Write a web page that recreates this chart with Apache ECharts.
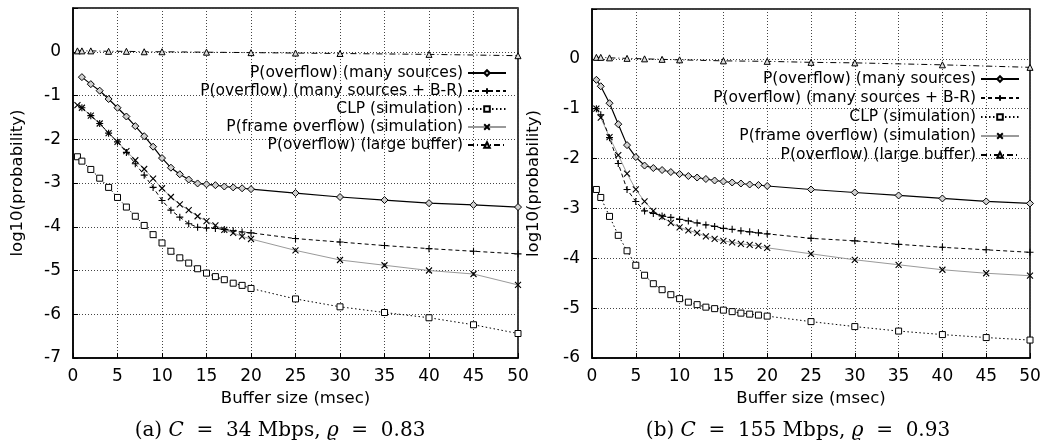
<!DOCTYPE html>
<html><head><meta charset="utf-8">
<script src="https://cdn.jsdelivr.net/npm/echarts@6/dist/echarts.min.js"></script>
<style>html,body{margin:0;padding:0;background:#fff}#c{width:1050px;height:445px}</style>
</head><body><div id="c"></div>
<script>
// ---------- data ----------
const names = ['P(overflow) (many sources)','P(overflow) (many sources + B-R)','CLP (simulation)','P(frame overflow) (simulation)','P(overflow) (large buffer)'];
const xTicks = [0,5,10,15,20,25,30,35,40,45,50];

// panel (a) C = 34 Mbps
const aXMany = [1,2,3,4,5,6,7,8,9,10,11,12,13,14,15,16,17,18,19,20,25,30,35,40,45,50];
const aMany  = [-0.58,-0.74,-0.89,-1.08,-1.28,-1.48,-1.70,-1.93,-2.17,-2.43,-2.65,-2.80,-2.92,-3.01,-3.03,-3.05,-3.08,-3.10,-3.12,-3.14,-3.23,-3.32,-3.39,-3.46,-3.50,-3.55];
const aBR    = [-1.28,-1.46,-1.64,-1.86,-2.06,-2.30,-2.56,-2.82,-3.10,-3.40,-3.62,-3.78,-3.93,-4.01,-4.03,-4.04,-4.06,-4.09,-4.12,-4.14,-4.27,-4.35,-4.43,-4.50,-4.56,-4.62];
const aXSim  = [0.5,1,2,3,4,5,6,7,8,9,10,11,12,13,14,15,16,17,18,19,20,25,30,35,40,45,50];
const aCLP   = [-2.40,-2.50,-2.69,-2.89,-3.10,-3.33,-3.55,-3.76,-3.97,-4.18,-4.37,-4.56,-4.71,-4.83,-4.96,-5.06,-5.14,-5.21,-5.29,-5.34,-5.41,-5.65,-5.83,-5.96,-6.08,-6.24,-6.44];
const aFrame = [-1.22,-1.28,-1.46,-1.64,-1.86,-2.06,-2.27,-2.48,-2.68,-2.90,-3.12,-3.32,-3.49,-3.62,-3.76,-3.87,-3.97,-4.07,-4.14,-4.22,-4.28,-4.54,-4.76,-4.88,-5.00,-5.08,-5.33];
const aXLarge = [0.5,1,2,4,6,8,10,15,20,25,30,40,50];
const aLarge = [0.02,0.02,0.02,0.01,0.01,0.00,0.00,-0.01,-0.02,-0.03,-0.04,-0.06,-0.09];

// panel (b) C = 155 Mbps
const bX     = [0.5,1,2,3,4,5,6,7,8,9,10,11,12,13,14,15,16,17,18,19,20,25,30,35,40,45,50];
const bMany  = [-0.42,-0.55,-0.89,-1.31,-1.73,-1.97,-2.14,-2.19,-2.23,-2.27,-2.31,-2.35,-2.38,-2.41,-2.44,-2.46,-2.48,-2.50,-2.52,-2.53,-2.55,-2.62,-2.68,-2.74,-2.80,-2.86,-2.90];
const bBR    = [-1.00,-1.12,-1.58,-2.10,-2.62,-2.86,-3.05,-3.10,-3.15,-3.18,-3.22,-3.25,-3.29,-3.33,-3.36,-3.40,-3.42,-3.45,-3.47,-3.49,-3.51,-3.60,-3.65,-3.72,-3.78,-3.83,-3.88];
const bCLP   = [-2.62,-2.78,-3.16,-3.54,-3.85,-4.14,-4.34,-4.51,-4.63,-4.73,-4.81,-4.88,-4.93,-4.98,-5.01,-5.04,-5.07,-5.10,-5.12,-5.14,-5.16,-5.27,-5.37,-5.46,-5.53,-5.59,-5.64];
const bFrame = [-1.00,-1.18,-1.57,-1.93,-2.30,-2.62,-2.86,-3.05,-3.17,-3.29,-3.38,-3.44,-3.49,-3.56,-3.61,-3.65,-3.68,-3.71,-3.73,-3.75,-3.79,-3.91,-4.03,-4.13,-4.23,-4.30,-4.35];
const bXLarge = [0.5,1,2,4,6,8,10,15,20,25,30,40,50];
const bLarge = [0.03,0.03,0.02,0.01,0.00,-0.01,-0.02,-0.04,-0.05,-0.07,-0.08,-0.12,-0.17];

// ---------- styles ----------
const FONT = 'DejaVu Sans';
const zip = (xs, ys) => xs.map((x, i) => [x, ys[i]]);
const PLUS = 'path://M5,0L5,10M0,5L10,5';
const CROSS = 'path://M0,0L10,10M10,0L0,10';
const styles = [
  {symbol:'diamond', symbolSize:7, itemStyle:{color:'#d0d0d0', borderColor:'#000', borderWidth:1}, lineStyle:{color:'#000', width:1.2, type:'solid'}},
  {symbol:PLUS, symbolSize:7, itemStyle:{color:'rgba(0,0,0,0)', borderColor:'#000', borderWidth:1.1}, lineStyle:{color:'#000', width:1, type:[4,3]}},
  {symbol:'rect', symbolSize:6, itemStyle:{color:'#fff', borderColor:'#000', borderWidth:1}, lineStyle:{color:'#000', width:1, type:[1.5,2.5]}},
  {symbol:CROSS, symbolSize:6, itemStyle:{color:'rgba(0,0,0,0)', borderColor:'#000', borderWidth:1.1}, lineStyle:{color:'#9a9a9a', width:1, type:'solid'}},
  {symbol:'triangle', symbolSize:6, itemStyle:{color:'#ddd', borderColor:'#000', borderWidth:1}, lineStyle:{color:'#000', width:1, type:[6,3,1,3]}}
];
function mk(idx, gi, data) {
  return Object.assign({
    type:'line', name:names[idx], xAxisIndex:gi, yAxisIndex:gi, data:data,
    showAllSymbol:true, animation:false, z: 10 - idx,
    emphasis:{disabled:true}
  }, JSON.parse(JSON.stringify(styles[idx])));
}
const series = [
  mk(0,0,zip(aXMany,aMany)), mk(1,0,zip(aXMany,aBR)), mk(2,0,zip(aXSim,aCLP)), mk(3,0,zip(aXSim,aFrame)), mk(4,0,zip(aXLarge,aLarge)),
  mk(0,1,zip(bX,bMany)), mk(1,1,zip(bX,bBR)), mk(2,1,zip(bX,bCLP)), mk(3,1,zip(bX,bFrame)), mk(4,1,zip(bXLarge,bLarge))
];

const split = {show:true, lineStyle:{color:'#444', width:1, type:[1,2]}};
function xAx(gi){
  return {type:'value', gridIndex:gi, min:0, max:50, interval:5,
    name:'Buffer size (msec)', nameLocation:'middle', nameGap:21,
    nameTextStyle:{fontFamily:FONT, fontSize:16.5, color:'#000'},
    axisLine:{show:true, onZero:false, lineStyle:{color:'#000', width:1.5}},
    axisTick:{show:true, inside:true, length:5, lineStyle:{color:'#000'}},
    axisLabel:{fontFamily:FONT, fontSize:17, color:'#000', margin:10},
    splitLine:split};
}
function yAx(gi, mn, gap){
  return {type:'value', gridIndex:gi, min:mn, max:1, interval:1,
    name:'log10(probability)', nameLocation:'middle', nameGap:gap, nameRotate:90,
    nameTextStyle:{fontFamily:FONT, fontSize:16.5, color:'#000'},
    axisLine:{show:true, onZero:false, lineStyle:{color:'#000', width:1.5}},
    axisTick:{show:true, inside:true, length:5, lineStyle:{color:'#000'}},
    axisLabel:{fontFamily:FONT, fontSize:17, color:'#000', margin:12,
      formatter:v => v === 1 ? '' : String(v)},
    splitLine:split};
}
const legendRowsA = [74,92,110,128,146];
const legendRowsB = [80,99,118,137,156];
const legends = [];
names.forEach((n,i)=>{
  legends.push({data:[n], right:543, top:legendRowsA[i]-9, align:'right', padding:0, itemWidth:38, itemHeight:7, itemGap:0,
    textStyle:{fontFamily:FONT, fontSize:15.5, color:'#000'}, selectedMode:false});
  legends.push({data:[n], right:30, top:legendRowsB[i]-9, align:'right', padding:0, itemWidth:38, itemHeight:7, itemGap:0,
    textStyle:{fontFamily:FONT, fontSize:15.5, color:'#000'}, selectedMode:false});
});
const capFont = 'DejaVu Serif';
const capRich = {i:{fontFamily:capFont, fontSize:20, fontStyle:'italic', color:'#000'}};
const option = {
  backgroundColor:'#fff',
  animation:false,
  title:[
    {text:'(a) {i|C}  =  34 Mbps, {i|ϱ}  =  0.83', left:275, top:416, textAlign:'center',
     textStyle:{fontFamily:capFont, fontSize:20, fontWeight:'normal', color:'#000', rich:capRich}},
    {text:'(b) {i|C}  =  155 Mbps, {i|ϱ}  =  0.93', left:793, top:416, textAlign:'center',
     textStyle:{fontFamily:capFont, fontSize:20, fontWeight:'normal', color:'#000', rich:capRich}}
  ],
  legend:legends,
  grid:[
    {left:73, top:8, width:445, height:350, show:true, borderColor:'#000', borderWidth:1.5, backgroundColor:'transparent'},
    {left:592, top:9, width:438, height:349, show:true, borderColor:'#000', borderWidth:1.5, backgroundColor:'transparent'}
  ],
  xAxis:[xAx(0), xAx(1)],
  yAxis:[yAx(0,-7,47), yAx(1,-6,50)],
  series:series
};
const chart = echarts.init(document.getElementById('c'), null, {renderer:'canvas'});
chart.setOption(option);
</script></body></html>
